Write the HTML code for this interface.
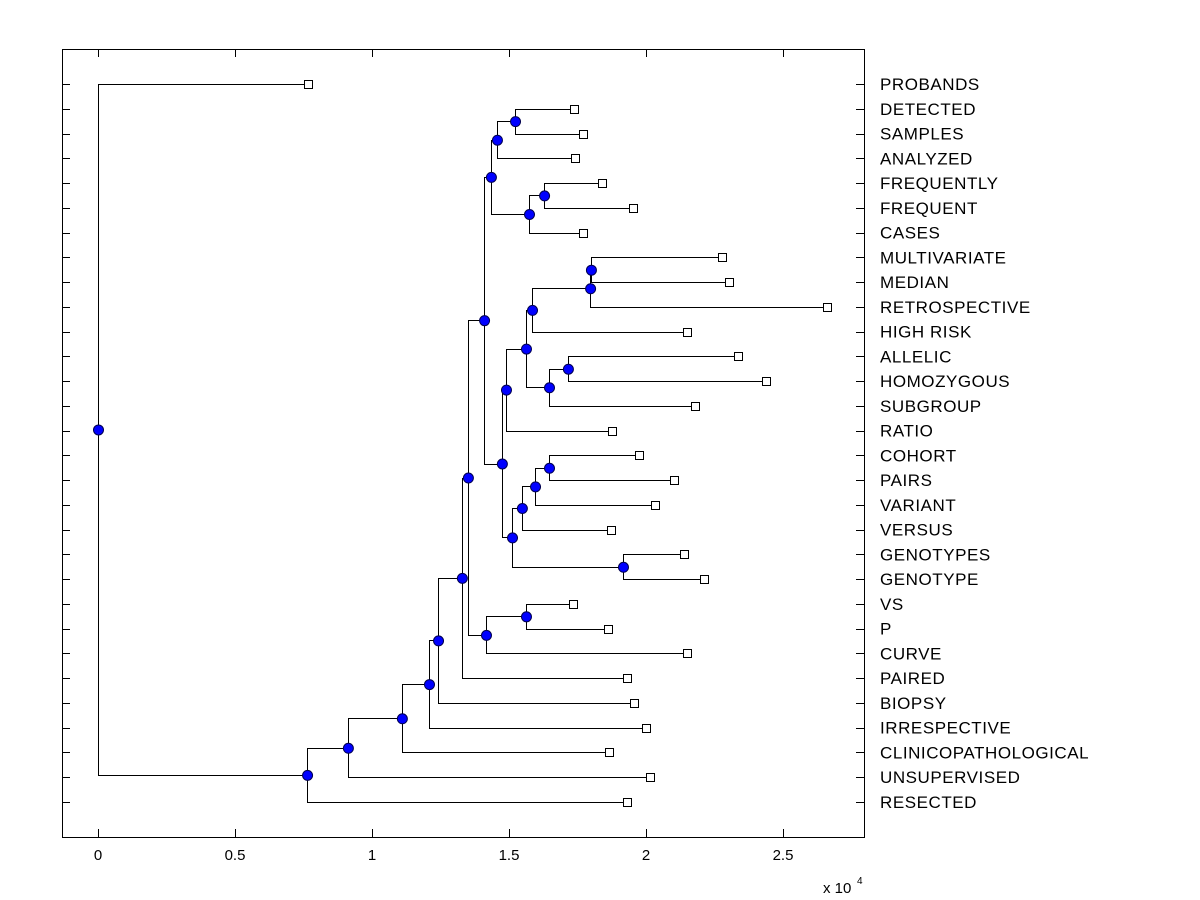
<!DOCTYPE html>
<html><head><meta charset="utf-8"><style>
html,body{margin:0;padding:0;background:#fff;}
svg{display:block;font-family:"Liberation Sans",Arial,sans-serif;}
</style></head><body>
<svg id="chart" width="1200" height="900" viewBox="0 0 1200 900" xmlns="http://www.w3.org/2000/svg">
<rect x="62.5" y="49.5" width="802" height="788" fill="#fff" stroke="#000" stroke-width="1"/>
<g id="ticks"></g>
<g id="links"></g>
<g id="marks"></g>
<g id="labels"></g>
<text x="823" y="893" font-size="15">x 10</text>
<text x="857" y="884" font-size="10">4</text>
</svg>
<script>
const leafLabels = ["PROBANDS","DETECTED","SAMPLES","ANALYZED","FREQUENTLY","FREQUENT","CASES","MULTIVARIATE","MEDIAN","RETROSPECTIVE","HIGH RISK","ALLELIC","HOMOZYGOUS","SUBGROUP","RATIO","COHORT","PAIRS","VARIANT","VERSUS","GENOTYPES","GENOTYPE","VS","P","CURVE","PAIRED","BIOPSY","IRRESPECTIVE","CLINICOPATHOLOGICAL","UNSUPERVISED","RESECTED"];
const leafValues = [0.766,1.737,1.770,1.741,1.839,1.953,1.770,2.277,2.303,2.661,2.150,2.336,2.438,2.179,1.876,1.974,2.102,2.033,1.872,2.139,2.212,1.734,1.861,2.150,1.931,1.956,2.000,1.865,2.015,1.931];
const mergePairs = [[1,2],[30,3],[4,5],[32,6],[31,33],[7,8],[35,9],[36,10],[11,12],[38,13],[37,39],[40,14],[15,16],[42,17],[43,18],[19,20],[44,45],[41,46],[34,47],[21,22],[49,23],[48,50],[51,24],[52,25],[53,26],[54,27],[55,28],[56,29],[0,57]];
const mergeHeights = [1.522,1.456,1.628,1.573,1.434,1.799,1.796,1.584,1.715,1.646,1.562,1.489,1.646,1.595,1.547,1.916,1.511,1.474,1.409,1.562,1.416,1.350,1.328,1.241,1.208,1.109,0.912,0.763,0];
const xTickValues = [0,0.5,1,1.5,2,2.5];
const xTickLabels = ["0","0.5","1","1.5","2","2.5"];

const NS="http://www.w3.org/2000/svg";
const X0=98, XS=274, Y0=84, YS=(802-84)/29;
const xs=v=>X0+v*XS;
const ys=i=>Y0+i*YS;
function mk(tag,attrs,parent){const e=document.createElementNS(NS,tag);for(const k in attrs)e.setAttribute(k,attrs[k]);document.getElementById(parent).appendChild(e);return e;}

xTickValues.forEach((v,i)=>{
  const x=Math.round(xs(v))+0.5;
  let t=mk('line',{x1:x,x2:x,y1:837,y2:829,stroke:'#000'},'ticks');
  
  
  t=mk('line',{x1:x,x2:x,y1:49,y2:57,stroke:'#000'},'ticks');
  
  
  const l=mk('text',{x:xs(v),y:860,'font-size':15,'text-anchor':'middle'},'labels');
  l.textContent=xTickLabels[i];
  
  
});
leafLabels.forEach((lab,i)=>{
  const y=Math.round(ys(i))+0.5;
  let t=mk('line',{x1:62,x2:70,y1:y,y2:y,stroke:'#000'},'ticks');
  
  
  t=mk('line',{x1:856,x2:864,y1:y,y2:y,stroke:'#000'},'ticks');
  
  
  const l=mk('text',{x:880,y:ys(i)+6,'font-size':17,'letter-spacing':0.55},'labels');
  l.textContent=lab;
  
  
});

const nodeX=[], nodeY=[];
leafValues.forEach((v,i)=>{nodeX.push(xs(v));nodeY.push(ys(i));});
mergePairs.forEach((p,k)=>{
  nodeX.push(xs(mergeHeights[k]));
  nodeY.push((nodeY[p[0]]+nodeY[p[1]])/2);
});
mergePairs.forEach((p,k)=>{
  const id=30+k, nx=Math.round(nodeX[id])+0.5;
  const ya=Math.round(nodeY[p[0]])+0.5, yb=Math.round(nodeY[p[1]])+0.5;
  const xa=nodeX[p[0]], xb=nodeX[p[1]];
  const path=mk('path',{d:`M${xa},${ya}H${nx}V${yb}H${xb}`,fill:'none',stroke:'#000','stroke-width':1},'links');
  
  
});
leafValues.forEach((v,i)=>{
  const s=mk('rect',{x:Math.round(xs(v))-4+0.5,y:Math.round(ys(i))-4+0.5,width:8,height:8,fill:'#fff',stroke:'#000'},'marks');
  
  
});
mergePairs.forEach((p,k)=>{
  const id=30+k;
  const c=mk('circle',{cx:nodeX[id]+0.5,cy:nodeY[id]+0.5,r:5,fill:'#0000ff',stroke:'#000050','stroke-width':1},'marks');
  
  
});
</script>
</body></html>
